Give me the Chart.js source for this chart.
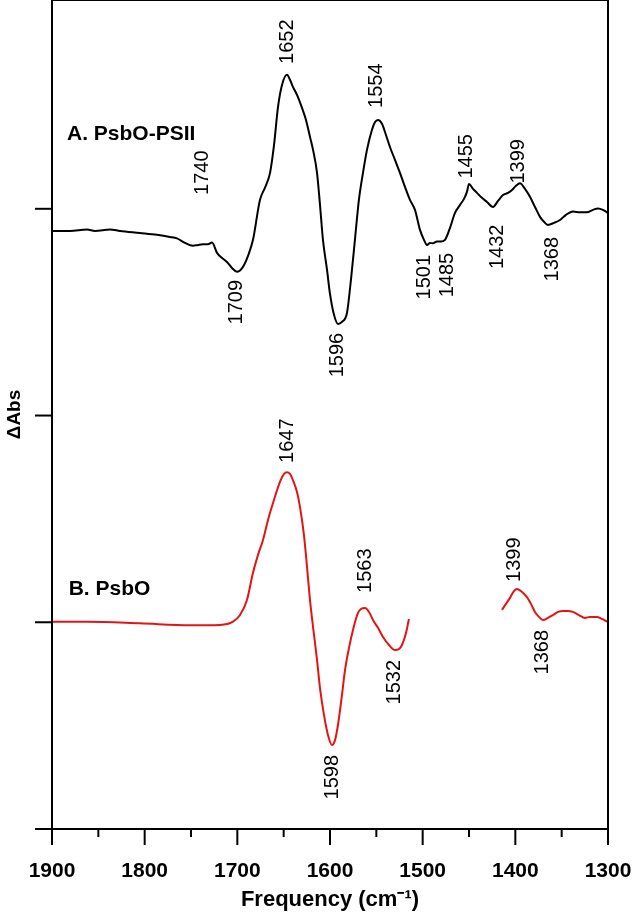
<!DOCTYPE html>
<html>
<head>
<meta charset="utf-8">
<script src="https://cdn.jsdelivr.net/npm/chart.js@4.4.1/dist/chart.umd.min.js"></script>
<style>
  html, body { margin: 0; padding: 0; background: #fff; }
  canvas { display: block; }
</style>
</head>
<body>
<canvas id="ftir" width="633" height="917"></canvas>
<script>
// spectrum A: PsbO-PSII (wavenumber, dAbs in arbitrary units)
const freqA = [1898.9,1880.6,1862.2,1853.6,1837.4,1826.6,1805.0,1786.7,1772.7,1765.1,1756.5,1747.9,1742.4,1737.1,1731.7,1727.3,
  1721.9,1716.5,1711.2,1705.8,1700.4,1693.9,1688.5,1683.1,1675.6,1670.1,1664.7,1660.4,1656.1,1651.8,1646.4,1643.2,1640.0,
  1635.6,1630.2,1625.9,1621.6,1618.3,1614.0,1610.8,1607.6,1603.2,1600.0,1595.7,1591.4,1587.1,1581.7,1577.4,1573.1,1568.8,
  1564.4,1560.1,1554.7,1551.4,1548.2,1543.9,1539.6,1535.3,1529.9,1524.5,1519.1,1513.7,1508.3,1502.9,1498.6,1495.3,1492.1,
  1488.9,1484.5,1480.2,1475.9,1470.5,1465.1,1459.7,1455.4,1452.2,1450.0,1445.7,1441.4,1436.0,1430.6,1424.1,1418.7,1413.3,
  1407.9,1403.6,1399.3,1395.0,1389.6,1384.2,1378.8,1373.4,1369.1,1364.8,1358.3,1351.8,1345.3,1337.8,1330.2,1322.7,1316.2,
  1310.8,1305.4,1300.0];
const absA = [2.893,2.893,2.900,2.893,2.900,2.893,2.883,2.874,2.864,2.857,2.835,2.821,2.825,2.828,2.828,2.837,
  2.787,2.762,2.743,2.714,2.695,2.719,2.772,2.850,3.043,3.103,3.174,3.309,3.493,3.599,3.648,3.624,3.590,
  3.551,3.488,3.430,3.348,3.285,3.174,3.019,2.850,2.704,2.588,2.487,2.443,2.453,2.496,2.656,2.850,3.043,
  3.174,3.285,3.382,3.420,3.430,3.411,3.357,3.299,3.237,3.174,3.106,3.043,2.995,2.898,2.850,2.825,2.835,
  2.833,2.842,2.842,2.850,2.908,2.980,3.019,3.048,3.082,3.120,3.096,3.077,3.053,3.033,3.009,3.038,3.067,
  3.077,3.091,3.111,3.123,3.096,3.058,3.009,2.961,2.937,2.922,2.932,2.946,2.971,2.987,2.983,2.983,2.995,
  3.002,2.995,2.980];

// spectrum B: PsbO, two segments (gap between ~1515 and ~1415)
const freqB1 = [1898.9,1862.2,1805.0,1751.1,1718.7,1704.7,1697.1,1689.6,1683.1,1677.7,1672.3,1666.9,1661.5,1654.0,1649.6,
  1646.4,1643.2,1640.0,1635.6,1632.4,1628.1,1624.8,1621.6,1618.3,1614.0,1610.8,1606.5,1602.2,1597.8,1594.6,1591.4,1587.1,
  1583.8,1579.5,1575.2,1569.8,1566.6,1562.2,1557.9,1553.6,1548.2,1542.8,1536.3,1529.9,1525.5,1522.3,1518.0,1514.8];
const absB1 = [1.003,1.003,0.995,0.985,0.987,1.003,1.035,1.108,1.239,1.326,1.398,1.495,1.577,1.679,1.718,
  1.726,1.718,1.688,1.630,1.558,1.422,1.268,1.108,0.977,0.818,0.682,0.552,0.455,0.406,0.430,0.503,0.648,
  0.769,0.876,0.963,1.045,1.064,1.069,1.050,1.011,0.973,0.929,0.890,0.866,0.871,0.890,0.948,1.016];
const freqB2 = [1414.4,1410.1,1405.8,1401.5,1398.3,1394.0,1387.5,1383.1,1378.8,1374.5,1370.2,1364.8,1359.4,1354.0,
  1348.6,1343.2,1337.8,1331.4,1324.9,1319.5,1312.0,1306.6,1300.0];
const absB2 = [1.060,1.089,1.118,1.151,1.161,1.151,1.122,1.089,1.050,1.026,1.011,1.021,1.035,1.050,
  1.055,1.055,1.050,1.035,1.021,1.026,1.026,1.016,1.001];

// peak labels (text, anchor wavenumber, anchor dAbs, above/below curve)
const peakText = ['1740','1709','1652','1596','1554','1501','1485','1455','1432','1399','1368',
  '1647','1598','1563','1532','1399','1368'];
const peakX = [1737.1,1700.4,1646.4,1592.4,1549.3,1497.5,1472.7,1452.2,1419.8,1397.1,1360.4,
  1646.4,1596.8,1562.2,1529.9,1400.4,1370.2];
const peakY = [3.067,2.656,3.701,2.400,3.488,2.777,2.787,3.146,2.924,3.122,2.864,
  1.771,0.358,1.142,0.818,1.195,0.963];
const peakUp = [true,false,true,false,true,false,false,true,false,true,false,
  true,false,true,false,true,false];

// panel names
const panelText = ['A. PsbO-PSII', 'B. PsbO'];
const panelX = [1883.8, 1882.0];
const panelY = [3.333, 1.132];

const xTicks = [1300, 1400, 1500, 1600, 1700, 1800, 1900];

function pts(xs, ys) {
  return xs.map((v, i) => ({x: v, y: ys[i]}));
}

const extras = {
  id: 'extras',
  afterDraw(chart) {
    const ctx = chart.ctx;
    const x = chart.scales.x, y = chart.scales.y;
    const a = chart.chartArea;
    ctx.save();
    ctx.strokeStyle = '#000';
    ctx.lineWidth = 2;
    // frame top and right
    ctx.beginPath();
    ctx.moveTo(a.left, a.top);
    ctx.lineTo(a.right, a.top);
    ctx.lineTo(a.right, a.bottom);
    ctx.stroke();
    // x ticks, major every 100, minor every 50
    for (let v = 1300; v <= 1900; v += 50) {
      const px = x.getPixelForValue(v);
      const len = (v % 100 === 0) ? 16 : 8;
      ctx.beginPath();
      ctx.moveTo(px, a.bottom);
      ctx.lineTo(px, a.bottom + len);
      ctx.stroke();
    }
    // y ticks
    for (let v = 0; v <= 3; v++) {
      const py = y.getPixelForValue(v);
      ctx.beginPath();
      ctx.moveTo(a.left - 17, py);
      ctx.lineTo(a.left, py);
      ctx.stroke();
    }
    // peak labels
    ctx.fillStyle = '#000';
    ctx.font = '20px "Liberation Sans", Arial, sans-serif';
    ctx.textBaseline = 'middle';
    peakText.forEach((t, i) => {
      ctx.save();
      ctx.translate(x.getPixelForValue(peakX[i]), y.getPixelForValue(peakY[i]));
      ctx.rotate(-Math.PI / 2);
      ctx.textAlign = peakUp[i] ? 'left' : 'right';
      ctx.fillText(t, 0, 0);
      ctx.restore();
    });
    // panel names
    ctx.font = 'bold 21px "Liberation Sans", Arial, sans-serif';
    ctx.textAlign = 'left';
    ctx.textBaseline = 'alphabetic';
    panelText.forEach((t, i) => {
      ctx.fillText(t, x.getPixelForValue(panelX[i]), y.getPixelForValue(panelY[i]));
    });
    ctx.restore();
  }
};

new Chart(document.getElementById('ftir'), {
  type: 'line',
  data: {
    datasets: [
      {data: pts(freqA, absA), borderColor: '#000', borderWidth: 2},
      {data: pts(freqB1, absB1), borderColor: 'rgb(228,20,20)', borderWidth: 2},
      {data: pts(freqB2, absB2), borderColor: 'rgb(228,20,20)', borderWidth: 2}
    ]
  },
  options: {
    responsive: false,
    animation: false,
    devicePixelRatio: 1,
    elements: {point: {radius: 0}, line: {cubicInterpolationMode: 'monotone'}},
    layout: {padding: {left: 0, right: 25, top: 0, bottom: 0}},
    plugins: {legend: {display: false}, tooltip: {enabled: false}},
    scales: {
      x: {
        type: 'linear',
        reverse: true,
        min: 1300,
        max: 1900,
        afterBuildTicks: s => { s.ticks = xTicks.map(v => ({value: v})); },
        afterFit: s => { s.height = 88; },
        grid: {display: false, drawTicks: false},
        border: {display: true, color: '#000', width: 2},
        ticks: {
          color: '#000',
          padding: 30,
          maxRotation: 0,
          callback: v => String(v),
          font: {family: '"Liberation Sans", Arial, sans-serif', size: 21, weight: 'bold'}
        },
        title: {
          display: true,
          text: 'Frequency (cm⁻¹)',
          color: '#000',
          padding: {top: 0, bottom: 4},
          font: {family: '"Liberation Sans", Arial, sans-serif', size: 22, weight: 'bold'}
        }
      },
      y: {
        type: 'linear',
        min: 0,
        max: 4.01,
        afterFit: s => { s.width = 52; },
        grid: {display: false, drawTicks: false},
        border: {display: true, color: '#000', width: 2},
        ticks: {display: false},
        title: {
          display: true,
          text: 'ΔAbs',
          color: '#000',
          padding: {top: 3, bottom: 0},
          font: {family: '"Liberation Sans", Arial, sans-serif', size: 19, weight: 'bold'}
        }
      }
    }
  },
  plugins: [extras]
});
</script>
</body>
</html>
